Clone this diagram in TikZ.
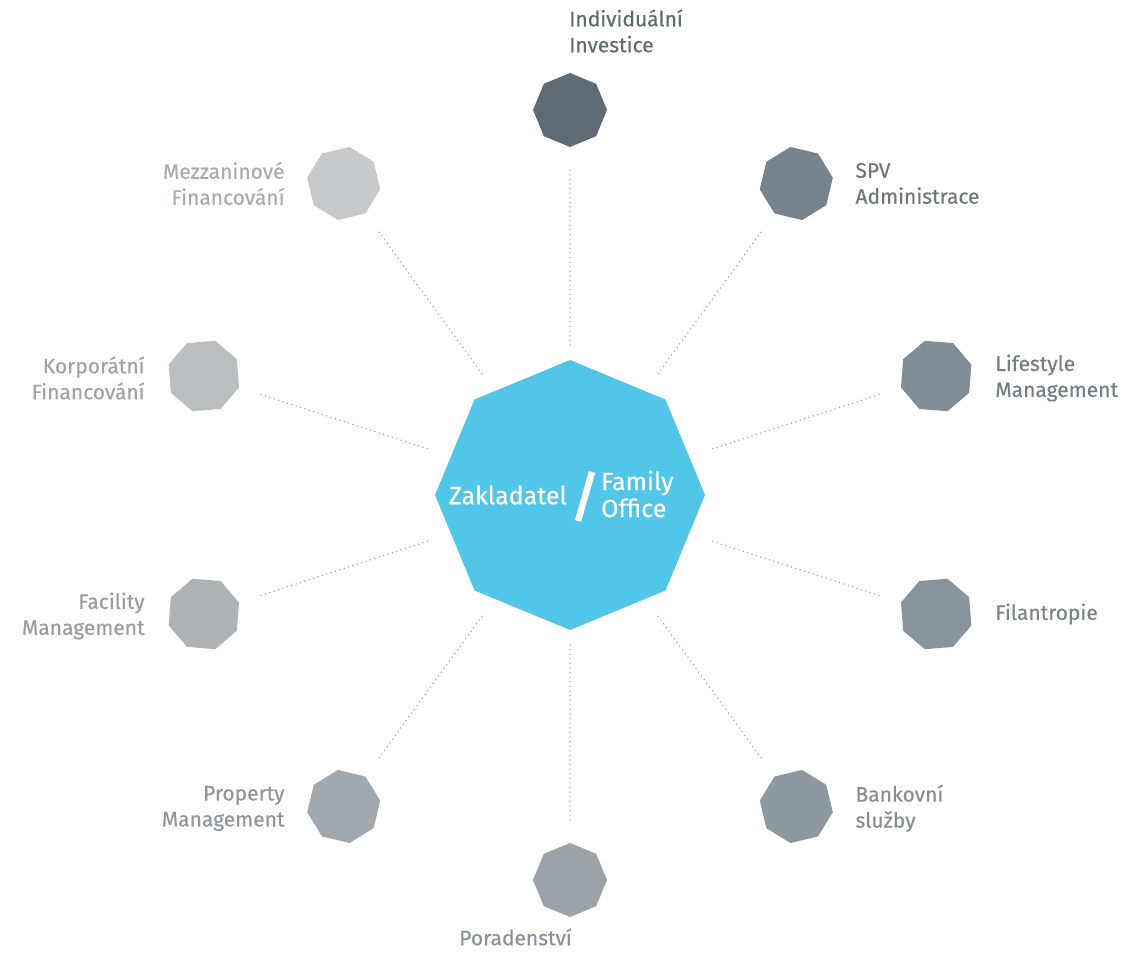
\documentclass[tikz,border=0pt]{standalone}
\usepackage{fontspec}
\setmainfont{Fira Sans}
\newfontfamily\lblfont{Fira Sans}[FakeBold=0.4]
\usetikzlibrary{shapes.geometric,calc}
\definecolor{hub}{HTML}{52C6E9}
\definecolor{oc0}{HTML}{5F6B74}
\definecolor{oc1}{HTML}{77838C}
\definecolor{oc2}{HTML}{828D95}
\definecolor{oc3}{HTML}{89939A}
\definecolor{oc4}{HTML}{8E989F}
\definecolor{oc5}{HTML}{9AA1A7}
\definecolor{oc6}{HTML}{A2A9AE}
\definecolor{oc7}{HTML}{AEB3B7}
\definecolor{oc8}{HTML}{B9BEC1}
\definecolor{oc9}{HTML}{C5C9CC}
\definecolor{lc0}{HTML}{5F6B74}
\definecolor{lc1}{HTML}{6D7780}
\definecolor{lc2}{HTML}{737E86}
\definecolor{lc3}{HTML}{7B858C}
\definecolor{lc4}{HTML}{858E95}
\definecolor{lc5}{HTML}{8A9298}
\definecolor{lc6}{HTML}{8E969B}
\definecolor{lc7}{HTML}{969CA0}
\definecolor{lc8}{HTML}{9EA3A7}
\definecolor{lc9}{HTML}{A7ACAF}
\definecolor{dotc}{HTML}{9A9FA3}
\tikzset{
  hubbox/.style={regular polygon, regular polygon sides=8, shape border rotate=22.5,
    minimum size=270pt, inner sep=0pt, fill=hub, draw=none},
  satbox/.style={regular polygon, regular polygon sides=8,
    minimum size=74pt, inner sep=0pt, draw=none},
  lbl/.style={font=\lblfont\fontsize{21}{26}\selectfont, inner sep=0pt},
  hubtxt/.style={font=\lblfont\fontsize{25}{27}\selectfont, text=white, inner sep=0pt},
  dotline/.style={draw=dotc, line width=1.5pt, line cap=round, dash pattern=on 0pt off 4.6pt,
    shorten <=150pt, shorten >=60pt},
}
\begin{document}
\begin{tikzpicture}[x=1pt,y=1pt]
\useasboundingbox (0,0) rectangle (1129,973);
\coordinate (C) at (570,478);
\node[hubbox] (hub) at (C) {};
% satellites
\foreach \k in {0,...,9}{
  \pgfmathsetmacro{\ang}{90-36*\k}
  \pgfmathsetmacro{\rot}{22.5+\ang-90}
  \node[satbox, fill=oc\k, shape border rotate=\rot] (s\k) at ($(C)+(\ang:385)$) {};
}
\foreach \k in {0,...,9}{
  \draw[dotline] (hub.center) -- (s\k.center);
}
% labels
\node[lbl, text=lc0, align=left, anchor=west] (l0) at (569,942) {Individuální\\Investice};
\node[lbl, text=lc1, align=left, anchor=west] (l1) at ($(s1.center)+(59,0)$) {SPV\\Administrace};
\node[lbl, text=lc2, align=left, anchor=west] (l2) at ($(s2.center)+(59,-2)$) {Lifestyle\\Management};
\node[lbl, text=lc3, align=left, anchor=west] (l3) at ($(s3.center)+(59,0)$) {Filantropie};
\node[lbl, text=lc4, align=left, anchor=west] (l4) at ($(s4.center)+(59,-2)$) {Bankovní\\služby};
\node[lbl, text=lc5, align=right, anchor=east] (l5) at (572,36) {Poradenství};
\node[lbl, text=lc6, align=right, anchor=east] (l6) at ($(s6.center)+(-59,-2)$) {Property\\Management};
\node[lbl, text=lc7, align=right, anchor=east] (l7) at ($(s7.center)+(-59,-2)$) {Facility\\Management};
\node[lbl, text=lc8, align=right, anchor=east] (l8) at ($(s8.center)+(-59,-2)$) {Korporátní\\Financování};
\node[lbl, text=lc9, align=right, anchor=east] (l9) at ($(s9.center)+(-59,0)$) {Mezzaninové\\Financování};
% hub text
\node[hubtxt, anchor=east] (z) at (567,478) {Zakladatel};
\node[hubtxt, anchor=west, align=left] (fo) at (601,479) {Family\\Office};
\coordinate (sl1) at (578,452);
\coordinate (sl2) at (592,501);
\draw[white, line width=6.5pt] (sl1) -- (sl2);
\end{tikzpicture}
\end{document}
